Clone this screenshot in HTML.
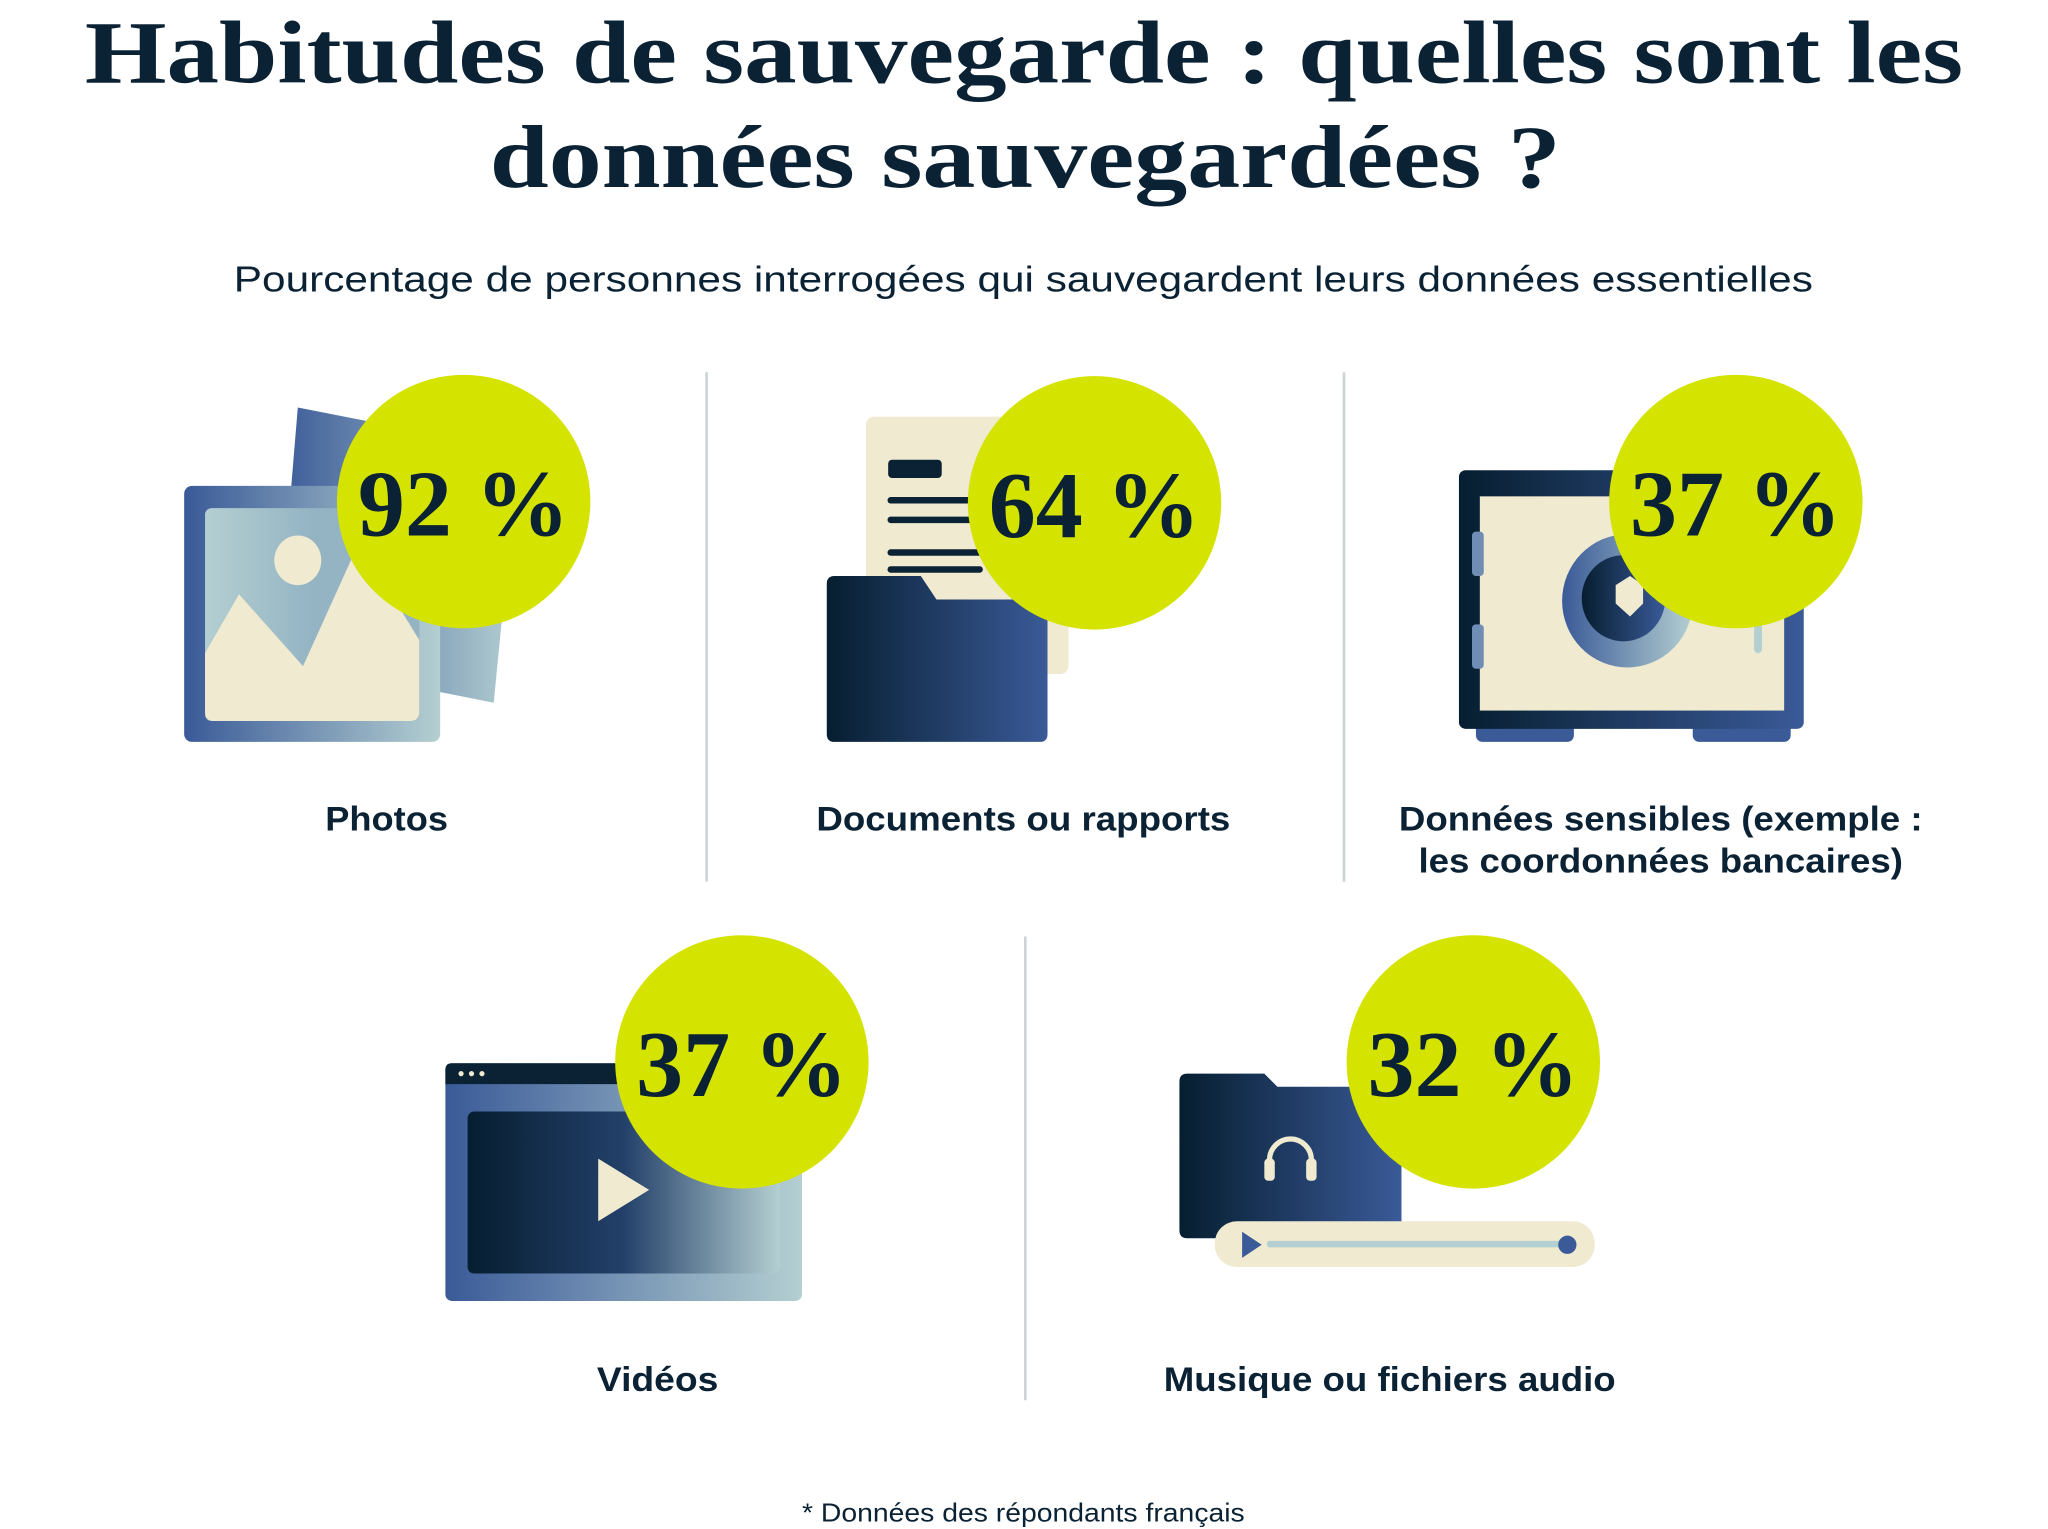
<!DOCTYPE html>
<html><head><meta charset="utf-8"><style>
html,body{margin:0;padding:0;background:#fff;}
svg{display:block;}
.t{font-family:"Liberation Serif",serif;font-weight:bold;fill:#0b2234;}
.s{font-family:"Liberation Sans",sans-serif;fill:#0b2234;}
.p{font-family:"Liberation Serif",serif;font-weight:bold;fill:#0b2234;font-size:72px;}
.l{font-family:"Liberation Sans",sans-serif;font-weight:bold;fill:#0b2234;font-size:26px;}
</style></head><body>
<svg width="2048" height="1529" viewBox="0 0 1568 1170.6" preserveAspectRatio="none">
<defs>
<linearGradient id="bl" x1="0" x2="1"><stop offset="0" stop-color="#3a5a98"/><stop offset="1" stop-color="#b4cfd1"/></linearGradient>
<linearGradient id="lb" x1="0" x2="1"><stop offset="0" stop-color="#b4cfd1"/><stop offset="0.5" stop-color="#94b4c4"/><stop offset="1" stop-color="#94b4c4"/></linearGradient>
<linearGradient id="dk" x1="0" x2="1"><stop offset="0" stop-color="#061e30"/><stop offset="1" stop-color="#3a5a98"/></linearGradient>
<linearGradient id="vd" x1="0" x2="1"><stop offset="0" stop-color="#061e30"/><stop offset="0.5" stop-color="#23406a"/><stop offset="1" stop-color="#b4cfd1"/></linearGradient>
</defs>
<text class="t" x="65" y="63" font-size="68" textLength="1438" lengthAdjust="spacingAndGlyphs">Habitudes de sauvegarde : quelles sont les</text>
<text class="t" x="375" y="143" font-size="68" textLength="820" lengthAdjust="spacingAndGlyphs">données sauvegardées ?</text>
<text class="s" x="179" y="223" font-size="28" textLength="1209" lengthAdjust="spacingAndGlyphs">Pourcentage de personnes interrogées qui sauvegardent leurs données essentielles</text>
<g stroke="#ccd3d6" stroke-width="2"><line x1="541" y1="285" x2="541" y2="675"/><line x1="1029" y1="285" x2="1029" y2="675"/><line x1="785" y1="717" x2="785" y2="1072"/></g>

<!-- photos -->
<polygon points="228,312 397,345 378,538 212,505" fill="url(#bl)"/>
<rect x="141" y="372" width="196" height="196" rx="6" fill="url(#bl)"/>
<rect x="157" y="389" width="164" height="163" rx="5" fill="url(#lb)"/>
<ellipse cx="228" cy="429" rx="18" ry="19" fill="#efead0"/>
<path d="M157,500 L183,455 L232,510 L275,415 L321,490 L321,545 Q321,552 314,552 L164,552 Q157,552 157,545 Z" fill="#efead0"/>
<circle cx="355" cy="384" r="97" fill="#d4e300"/>
<text class="p" x="355" y="410" text-anchor="middle">92 %</text>
<text class="l" x="249" y="636" textLength="94" lengthAdjust="spacingAndGlyphs">Photos</text>

<!-- documents -->
<rect x="663" y="319" width="155" height="197" rx="6" fill="#efead0"/>
<rect x="680" y="352" width="41" height="14" rx="3" fill="#0b2234"/>
<g stroke="#0b2234" stroke-width="5" stroke-linecap="round"><line x1="682" y1="383" x2="750" y2="383"/><line x1="682" y1="398" x2="750" y2="398"/><line x1="682" y1="423" x2="750" y2="423"/><line x1="682" y1="436" x2="750" y2="436"/></g>
<path d="M639,441 L705,441 L717,459 L802,459 L802,562 Q802,568 796,568 L639,568 Q633,568 633,562 L633,447 Q633,441 639,441Z" fill="url(#dk)"/>
<circle cx="838" cy="385" r="97" fill="#d4e300"/>
<text class="p" x="838" y="411" text-anchor="middle">64 %</text>
<text class="l" x="625" y="636" textLength="317" lengthAdjust="spacingAndGlyphs">Documents ou rapports</text>

<!-- safe -->
<rect x="1130" y="552" width="75" height="16" rx="5" fill="#3a5a98"/>
<rect x="1296" y="552" width="75" height="16" rx="5" fill="#3a5a98"/>
<rect x="1117" y="360" width="264" height="198" rx="5" fill="url(#dk)"/>
<rect x="1133" y="380" width="233" height="164" fill="#efead0"/>
<rect x="1127" y="407" width="9" height="34" rx="3" fill="#6f8db5"/>
<rect x="1127" y="478" width="9" height="34" rx="3" fill="#6f8db5"/>
<rect x="1343" y="470" width="6" height="30" rx="3" fill="#b4cfd1"/>
<ellipse cx="1246" cy="460" rx="50" ry="51" fill="url(#bl)"/>
<ellipse cx="1243" cy="458" rx="32" ry="33" fill="url(#dk)"/>
<path d="M1237,448 L1248,441 L1258,448 L1258,462 L1248,472 L1237,462Z" fill="#efead0"/>
<circle cx="1329" cy="384" r="97" fill="#d4e300"/>
<text class="p" x="1329" y="410" text-anchor="middle">37 %</text>
<text class="l" x="1071" y="636" textLength="401" lengthAdjust="spacingAndGlyphs">Données sensibles (exemple :</text>
<text class="l" x="1086" y="668" textLength="371" lengthAdjust="spacingAndGlyphs">les coordonnées bancaires)</text>

<!-- video -->
<rect x="341" y="814" width="273" height="182" rx="5" fill="url(#bl)"/>
<path d="M346,814 L609,814 Q614,814 614,819 L614,830 L341,830 L341,819 Q341,814 346,814Z" fill="#0b2234"/>
<g fill="#efead0"><circle cx="353" cy="822" r="2"/><circle cx="361" cy="822" r="2"/><circle cx="369" cy="822" r="2"/></g>
<rect x="358" y="851" width="239" height="124" rx="5" fill="url(#vd)"/>
<polygon points="458,887 497,911 458,935" fill="#efead0"/>
<circle cx="568" cy="813" r="97" fill="#d4e300"/>
<text class="p" x="568" y="839" text-anchor="middle">37 %</text>
<text class="l" x="457" y="1065" textLength="93" lengthAdjust="spacingAndGlyphs">Vidéos</text>

<!-- music -->
<path d="M909,822 L968,822 L978,832 L1073,832 L1073,942 Q1073,948 1067,948 L909,948 Q903,948 903,942 L903,828 Q903,822 909,822Z" fill="url(#dk)"/>
<path d="M972,900 L972,888 A16,16 0 0 1 1004,888 L1004,900" stroke="#efead0" stroke-width="4" fill="none"/>
<rect x="968" y="887" width="8" height="17" rx="3" fill="#efead0"/>
<rect x="1000" y="887" width="8" height="17" rx="3" fill="#efead0"/>
<rect x="930" y="935" width="291" height="35" rx="17" fill="#efead0"/>
<rect x="970" y="950" width="230" height="5" rx="2" fill="#b4cfd1"/>
<polygon points="951,943 966,953 951,963" fill="#3a5a98"/>
<circle cx="1200" cy="953" r="7" fill="#3a5a98"/>
<circle cx="1128" cy="813" r="97" fill="#d4e300"/>
<text class="p" x="1128" y="839" text-anchor="middle">32 %</text>
<text class="l" x="891" y="1065" textLength="346" lengthAdjust="spacingAndGlyphs">Musique ou fichiers audio</text>

<text class="s" x="614" y="1165" font-size="20" textLength="339" lengthAdjust="spacingAndGlyphs">* Données des répondants français</text>
</svg>
</body></html>
